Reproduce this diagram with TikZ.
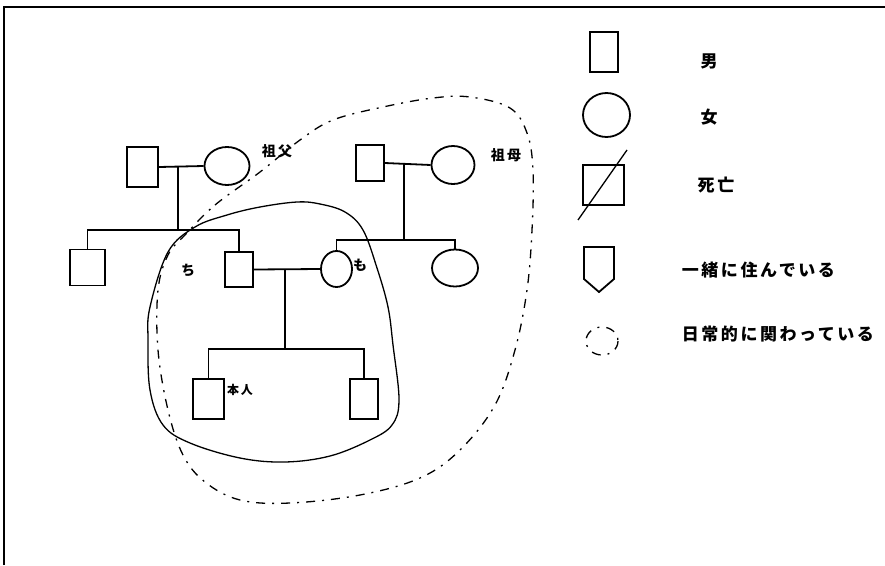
\documentclass[tikz,border=0pt]{standalone}
\usepackage{fontspec}
\newfontfamily\jp[LetterSpace=15]{Noto Sans CJK JP}
\usetikzlibrary{shapes.geometric}
\begin{document}
\begin{tikzpicture}[x=1pt,y=-1pt,
    line width=1.8pt,
    male/.style   = {draw, rectangle, inner sep=0pt, minimum width=#1},
    male/.default = 30,
    female/.style = {draw, ellipse, inner sep=0pt},
    lbl/.style    = {font=\jp\bfseries\fontsize{17}{17}\selectfont, inner sep=0pt},
    sml/.style    = {font=\jp\bfseries\fontsize{14}{14}\selectfont, inner sep=0pt},
    near/.style   = {line width=1.3pt},
    daily/.style  = {line width=1.3pt, dash pattern=on 9pt off 7pt on 2pt off 7pt}]
  \useasboundingbox (0,0) rectangle (885,565);
  \draw (4,565) -- (4,7) -- (885,7);

  % legend
  \node[male=28, minimum height=40] (lmale) at (604,52) {};
  \node[female, minimum width=47, minimum height=44] (lfemale) at (606.5,115) {};
  \node[male=41, minimum height=40] (ldead) at (603.5,185) {};
  \draw[line width=1.3pt] (578,220) -- (627,150);
  \draw (584,247) -- (614,247) -- (614,279) -- (599,292) -- (584,279) -- cycle;
  \draw[daily] (602,341) ellipse (16 and 14);
  \node[lbl] (tmale)   at (709,61)  {男};
  \node[lbl] (tfemale) at (709,117) {女};
  \node[lbl] (tdead)   at (716,185) {死亡};
  \node[lbl, anchor=west] (tlive)  at (681,270) {一緒に住んでいる};
  \node[lbl, anchor=west] (tdaily) at (681,334) {日常的に関わっている};

  % father's side
  \node[male=31, minimum height=40] (gfa) at (142.5,167) {};
  \node[female, minimum width=45, minimum height=38] (gma) at (227,166) {};
  \node[male=35, minimum height=36] (uncle) at (87.5,267.5) {};
  \node[male=28, minimum height=35] (father) at (239,269.5) {};
  \coordinate (cplA) at (178,166);
  \coordinate (sibA) at (178,230);
  \draw (gfa.east) -- (gma.west);
  \draw (cplA) -- (sibA);
  \draw (uncle.north) |- (sibA) -| (father.north);

  % mother's side
  \node[male=28, minimum height=36] (gfb) at (370,163) {};
  \node[female, minimum width=43, minimum height=38] (gmb) at (453,165) {};
  \node[female, minimum width=31, minimum height=36] (mother) at (336.5,269) {};
  \node[female, minimum width=46, minimum height=37] (aunt) at (455,268) {};
  \coordinate (cplB) at (404,163);
  \coordinate (sibB) at (404,240);
  \draw (gfb.east) -- (gmb.west);
  \draw (cplB) -- (sibB);
  \draw (mother.north) |- (sibB) -| (aunt.north);

  % parents and children
  \node[male=31, minimum height=40] (self) at (208.5,399) {};
  \node[male=28, minimum height=40] (sib) at (364,399) {};
  \coordinate (cplP) at (285,270);
  \coordinate (sibP) at (285,349);
  \draw (father.east) -- (mother.west);
  \draw (cplP) -- (sibP);
  \draw (self.north) |- (sibP) -| (sib.north);

  \node[sml] (tgfa)  at (277,151) {祖父};
  \node[sml] (tgmb)  at (506,155) {祖母};
  \node[sml] (tfa)   at (188,270) {ち};
  \node[sml] (tmo)   at (360,265) {も};
  \node[sml, font=\jp\bfseries\fontsize{12}{12}\selectfont] (tself) at (240,390) {本人};

  % household and daily contact
  \draw[near] plot[smooth cycle, tension=0.6] coordinates {
    (150,307) (168,252) (195,227) (227,215) (260,207) (297,202) (320,204)
    (345,212) (363,230) (377,268) (388,307) (393,345) (399,400) (392,425)
    (370,440) (330,456) (285,462) (240,458) (190,443) (163,425) (150,390)
    (148,340)};
  \draw[daily] plot[smooth cycle, tension=0.6] coordinates {
    (185,235) (215,205) (260,172) (300,140) (333,120) (383,107) (433,98)
    (470,97) (510,108) (527,133) (533,170) (532,230) (527,290) (515,350)
    (495,405) (460,450) (420,478) (360,495) (290,503) (240,500) (205,482)
    (183,455) (168,410) (158,350) (158,290) (168,255)};
\end{tikzpicture}
\end{document}
